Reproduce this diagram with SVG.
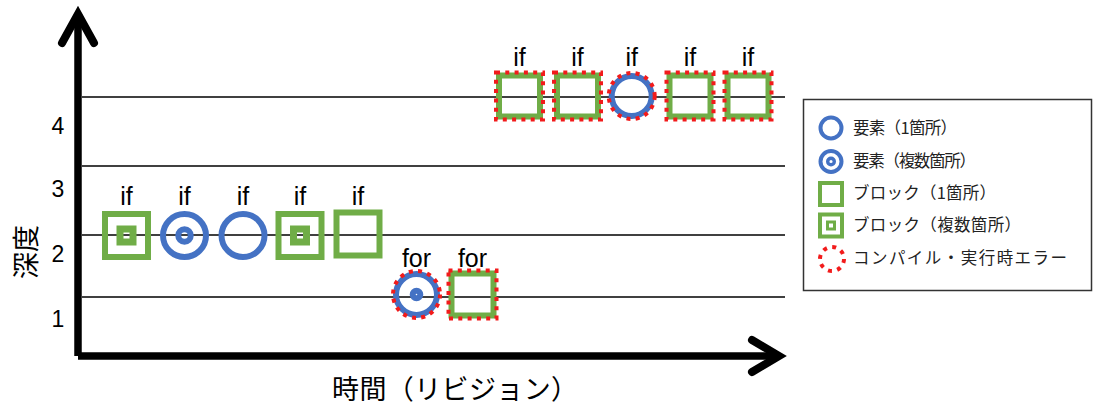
<svg xmlns="http://www.w3.org/2000/svg" width="1093" height="405" viewBox="0 0 1093 405">
  <style>
    .grid { stroke: #000; stroke-width: 1.3; fill: none; }
    .axis { stroke: #000; stroke-width: 7.5; fill: none; }
    .head { stroke: #000; stroke-width: 8; fill: none; stroke-linecap: round; stroke-linejoin: miter; }
    .blk { fill: none; stroke: #70AD47; stroke-width: 6; }
    .blk-in { fill: none; stroke: #70AD47; stroke-width: 7; }
    .elm { fill: none; stroke: #4472C4; stroke-width: 6; }
    .err { fill: none; stroke: #F21B1B; stroke-width: 4; stroke-dasharray: 4 5.3; }
    .lbl { font-family: "Liberation Sans", "Noto Sans CJK JP", sans-serif; font-size: 25px; fill: #000; text-anchor: middle; }
    .num { font-family: "Liberation Sans", "Noto Sans CJK JP", sans-serif; font-size: 23px; fill: #000; text-anchor: middle; }
    .jp { font-family: "Noto Sans CJK JP", "Noto Sans CJK SC", sans-serif; fill: #000; }
    .leg { font-family: "Noto Sans CJK JP", "Noto Sans CJK SC", sans-serif; font-size: 16.5px; fill: #222; }
  </style>

  <!-- depth grid lines -->
  <g id="grid">
    <line class="grid" x1="82" y1="97" x2="785" y2="97"/>
    <line class="grid" x1="82" y1="166" x2="785" y2="166"/>
    <line class="grid" x1="82" y1="235" x2="785" y2="235"/>
    <line class="grid" x1="82" y1="297" x2="785" y2="297"/>
  </g>

  <!-- axes -->
  <g id="axes">
    <line class="axis" x1="78" y1="16" x2="78" y2="356"/>
    <line class="axis" x1="78" y1="356" x2="778" y2="356"/>
    <polyline class="head" points="62,43 78,14 94,43"/>
    <polyline class="head" points="752,340 779,356 752,372"/>
    <text class="num" x="58" y="134">4</text>
    <text class="num" x="58" y="197">3</text>
    <text class="num" x="58" y="262">2</text>
    <text class="num" x="58" y="327">1</text>
    <text class="jp" font-size="27" text-anchor="middle" transform="translate(36,252) rotate(-90)">深度</text>
    <text class="jp" font-size="27" x="332" y="399" textLength="246" lengthAdjust="spacing">時間（リビジョン）</text>
  </g>

  <!-- depth 2 -->
  <g id="n1" transform="translate(126.5,235.5)">
    <rect class="blk" x="-21.5" y="-21.5" width="43" height="43"/>
    <rect class="blk-in" x="-6.5" y="-6.5" width="13" height="13"/>
    <text class="lbl" x="0" y="-31">if</text>
  </g>
  <g id="n2" transform="translate(184.5,235.5)">
    <circle class="elm" r="21.5"/>
    <circle class="elm" r="6.25" stroke-width="6.5"/>
    <text class="lbl" x="0" y="-31">if</text>
  </g>
  <g id="n3" transform="translate(243,235.5)">
    <circle class="elm" r="21.5"/>
    <text class="lbl" x="0" y="-31">if</text>
  </g>
  <g id="n4" transform="translate(300,235.5)">
    <rect class="blk" x="-21.5" y="-21.5" width="43" height="43"/>
    <rect class="blk-in" x="-6.5" y="-6.5" width="13" height="13"/>
    <text class="lbl" x="0" y="-31">if</text>
  </g>
  <g id="n5" transform="translate(358,234)">
    <rect class="blk" x="-21.5" y="-21.5" width="43" height="43"/>
    <text class="lbl" x="0" y="-29.5">if</text>
  </g>

  <!-- depth 1 -->
  <g id="n6" transform="translate(416.5,294.5)">
    <circle class="elm" r="20.5"/>
    <circle class="elm" r="3.8" stroke-width="4"/>
    <circle class="err" r="23.5"/>
    <text class="lbl" x="0" y="-27.5">for</text>
  </g>
  <g id="n7" transform="translate(472.5,294.5)">
    <rect class="blk" x="-21" y="-21" width="42" height="42"/>
    <rect class="err" x="-24" y="-24" width="48" height="48"/>
    <text class="lbl" x="0" y="-27.5">for</text>
  </g>

  <!-- depth 4 -->
  <g id="n8" transform="translate(519.5,96)">
    <rect class="blk" x="-20.5" y="-20.5" width="41" height="41"/>
    <rect class="err" x="-23.5" y="-23.5" width="47" height="47"/>
    <text class="lbl" x="0" y="-30">if</text>
  </g>
  <g id="n9" transform="translate(577.5,96)">
    <rect class="blk" x="-20.5" y="-20.5" width="41" height="41"/>
    <rect class="err" x="-23.5" y="-23.5" width="47" height="47"/>
    <text class="lbl" x="0" y="-30">if</text>
  </g>
  <g id="n10" transform="translate(631.7,96)">
    <circle class="elm" r="20" stroke-width="6"/>
    <circle class="err" r="23"/>
    <text class="lbl" x="0" y="-30">if</text>
  </g>
  <g id="n11" transform="translate(690,96)">
    <rect class="blk" x="-20.5" y="-20.5" width="41" height="41"/>
    <rect class="err" x="-23.5" y="-23.5" width="47" height="47"/>
    <text class="lbl" x="0" y="-30">if</text>
  </g>
  <g id="n12" transform="translate(748,96)">
    <rect class="blk" x="-20.5" y="-20.5" width="41" height="41"/>
    <rect class="err" x="-23.5" y="-23.5" width="47" height="47"/>
    <text class="lbl" x="0" y="-30">if</text>
  </g>

  <!-- legend -->
  <g id="legend">
    <rect x="803.5" y="99.5" width="288" height="191" fill="#fff" stroke="#333" stroke-width="1.5"/>
    <circle cx="831" cy="128" r="10.5" fill="none" stroke="#4472C4" stroke-width="4"/>
    <text class="leg" x="853" y="134" textLength="104" lengthAdjust="spacing">要素（1箇所）</text>
    <circle cx="831" cy="161.5" r="10.5" fill="none" stroke="#4472C4" stroke-width="4"/>
    <circle cx="831" cy="161.5" r="3.3" fill="none" stroke="#4472C4" stroke-width="3.4"/>
    <text class="leg" x="853" y="167" textLength="123" lengthAdjust="spacing">要素（複数箇所）</text>
    <rect x="820" y="183" width="22" height="22" fill="none" stroke="#70AD47" stroke-width="4"/>
    <text class="leg" x="853" y="199" textLength="143" lengthAdjust="spacing">ブロック（1箇所）</text>
    <rect x="820" y="214.5" width="22" height="22" fill="none" stroke="#70AD47" stroke-width="4"/>
    <rect x="827.5" y="222" width="7" height="7" fill="none" stroke="#70AD47" stroke-width="3"/>
    <text class="leg" x="853" y="231" textLength="168" lengthAdjust="spacing">ブロック（複数箇所）</text>
    <circle cx="832" cy="259" r="12" fill="none" stroke="#F21B1B" stroke-width="4" stroke-dasharray="4 5.4"/>
    <text class="leg" x="853" y="264" textLength="214" lengthAdjust="spacing">コンパイル・実行時エラー</text>
  </g>
</svg>
